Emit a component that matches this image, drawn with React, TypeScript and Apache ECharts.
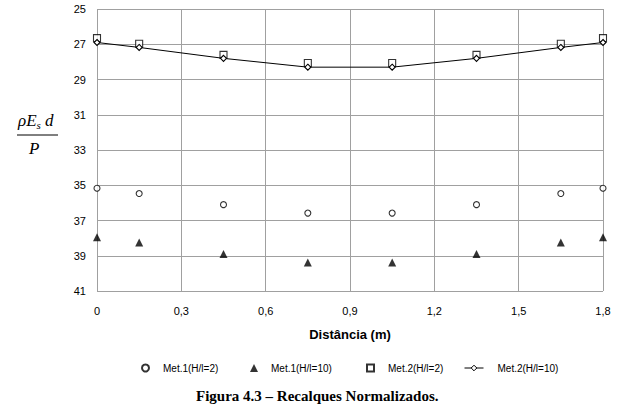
import React, { useEffect, useRef } from "react";
import * as echarts from "echarts";

const distances = [0, 0.15, 0.45, 0.75, 1.05, 1.35, 1.65, 1.8];
const met1H2 = [35.17, 35.47, 36.1, 36.58, 36.58, 36.1, 35.47, 35.17];
const met1H10 = [37.95, 38.25, 38.9, 39.38, 39.38, 38.9, 38.25, 37.95];
const met2H2 = [26.65, 26.97, 27.6, 28.06, 28.06, 27.6, 26.97, 26.65];
const met2H10 = [26.9, 27.18, 27.8, 28.3, 28.3, 27.8, 27.18, 26.9];
const seriesNames = ["Met.1(H/l=2)", "Met.1(H/l=10)", "Met.2(H/l=2)", "Met.2(H/l=10)"];

const pairs = (ys: number[]) => distances.map((x, i) => [x, ys[i]]);

export default function App() {
  const ref = useRef<HTMLDivElement>(null);
  useEffect(() => {
    document.body.style.margin = "0";
    const chart = echarts.init(ref.current!, null, { renderer: "svg" });
    const font = "Liberation Sans";
    const legendText = (pad: number) => ({
      fontFamily: font,
      fontSize: 10,
      color: "#000",
      padding: [0, 0, 0, pad],
    });
    chart.setOption({
      animation: false,
      backgroundColor: "#ffffff",
      grid: { left: 97, right: 16, top: 9, bottom: 123 },
      xAxis: {
        type: "value",
        min: 0,
        max: 1.8,
        interval: 0.3,
        name: "Distância (m)",
        nameLocation: "middle",
        nameGap: 37,
        nameTextStyle: { fontFamily: font, fontSize: 13, fontWeight: "bold", color: "#000", verticalAlign: "top" },
        axisLine: { show: false },
        axisTick: { show: false },
        axisLabel: {
          margin: 14,
          fontFamily: font,
          fontSize: 11,
          color: "#000",
          formatter: (v: number) => (v === 0 ? "0" : v.toFixed(1).replace(".", ",")),
        },
        splitLine: { show: true, lineStyle: { color: "#a0a0a0", width: 1 } },
      },
      yAxis: {
        type: "value",
        inverse: true,
        min: 25,
        max: 41,
        interval: 2,
        axisLine: { show: false },
        axisTick: { show: false },
        axisLabel: { margin: 11, fontFamily: font, fontSize: 11, color: "#000" },
        splitLine: { show: true, lineStyle: { color: "#a0a0a0", width: 1 } },
      },
      legend: [
        { data: [seriesNames[0]], left: 141, top: 363, padding: 0, itemWidth: 7, itemHeight: 7, textStyle: legendText(9) },
        { data: [seriesNames[1]], left: 250, top: 363, padding: 0, itemWidth: 8, itemHeight: 8, textStyle: legendText(8) },
        { data: [seriesNames[2]], left: 366, top: 363, padding: 0, itemWidth: 7, itemHeight: 7, textStyle: legendText(9) },
        {
          data: [seriesNames[3]],
          left: 464,
          top: 363,
          padding: 0,
          itemWidth: 19,
          itemHeight: 7,
          lineStyle: { width: 1 },
          itemStyle: { borderWidth: 1 },
          textStyle: legendText(9),
        },
      ],
      series: [
        {
          name: seriesNames[0],
          type: "scatter",
          data: pairs(met1H2),
          symbol: "circle",
          symbolSize: 6,
          itemStyle: { color: "#fff", borderColor: "#000", borderWidth: 1.1 },
        },
        {
          name: seriesNames[1],
          type: "scatter",
          data: pairs(met1H10),
          symbol: "triangle",
          symbolSize: 8,
          itemStyle: { color: "#000" },
        },
        {
          name: seriesNames[2],
          type: "scatter",
          data: pairs(met2H2),
          symbol: "rect",
          symbolSize: 7,
          itemStyle: { color: "#fff", borderColor: "#000", borderWidth: 1.1 },
        },
        {
          name: seriesNames[3],
          type: "line",
          data: pairs(met2H10),
          symbol: "diamond",
          symbolSize: 6,
          showAllSymbol: true,
          lineStyle: { color: "#000", width: 1 },
          itemStyle: { color: "#fff", borderColor: "#000", borderWidth: 1.1 },
        },
      ],
      graphic: [
        {
          type: "text",
          left: 18,
          top: 112,
          style: {
            text: "{a|ρE}{s|s}{a| d}",
            rich: {
              a: { fontFamily: "Liberation Serif", fontStyle: "italic", fontSize: 17, fill: "#000" },
              s: { fontFamily: "Liberation Serif", fontStyle: "italic", fontSize: 11, fill: "#000", verticalAlign: "bottom", padding: [8, 0, 0, 0] },
            },
          },
        },
        {
          type: "line",
          shape: { x1: 17, y1: 135, x2: 58, y2: 135 },
          style: { stroke: "#000", lineWidth: 1 },
        },
        {
          type: "text",
          left: 29,
          top: 140,
          style: { text: "P", fontFamily: "Liberation Serif", fontStyle: "italic", fontSize: 17, fill: "#000" },
        },
        {
          type: "text",
          left: 196,
          top: 388,
          style: {
            text: "Figura 4.3 – Recalques Normalizados.",
            fontFamily: "Liberation Serif",
            fontWeight: "bold",
            fontSize: 15,
            fill: "#000",
          },
        },
      ],
    });
    return () => chart.dispose();
  }, []);
  return <div ref={ref} style={{ width: 619, height: 414 }} />;
}
